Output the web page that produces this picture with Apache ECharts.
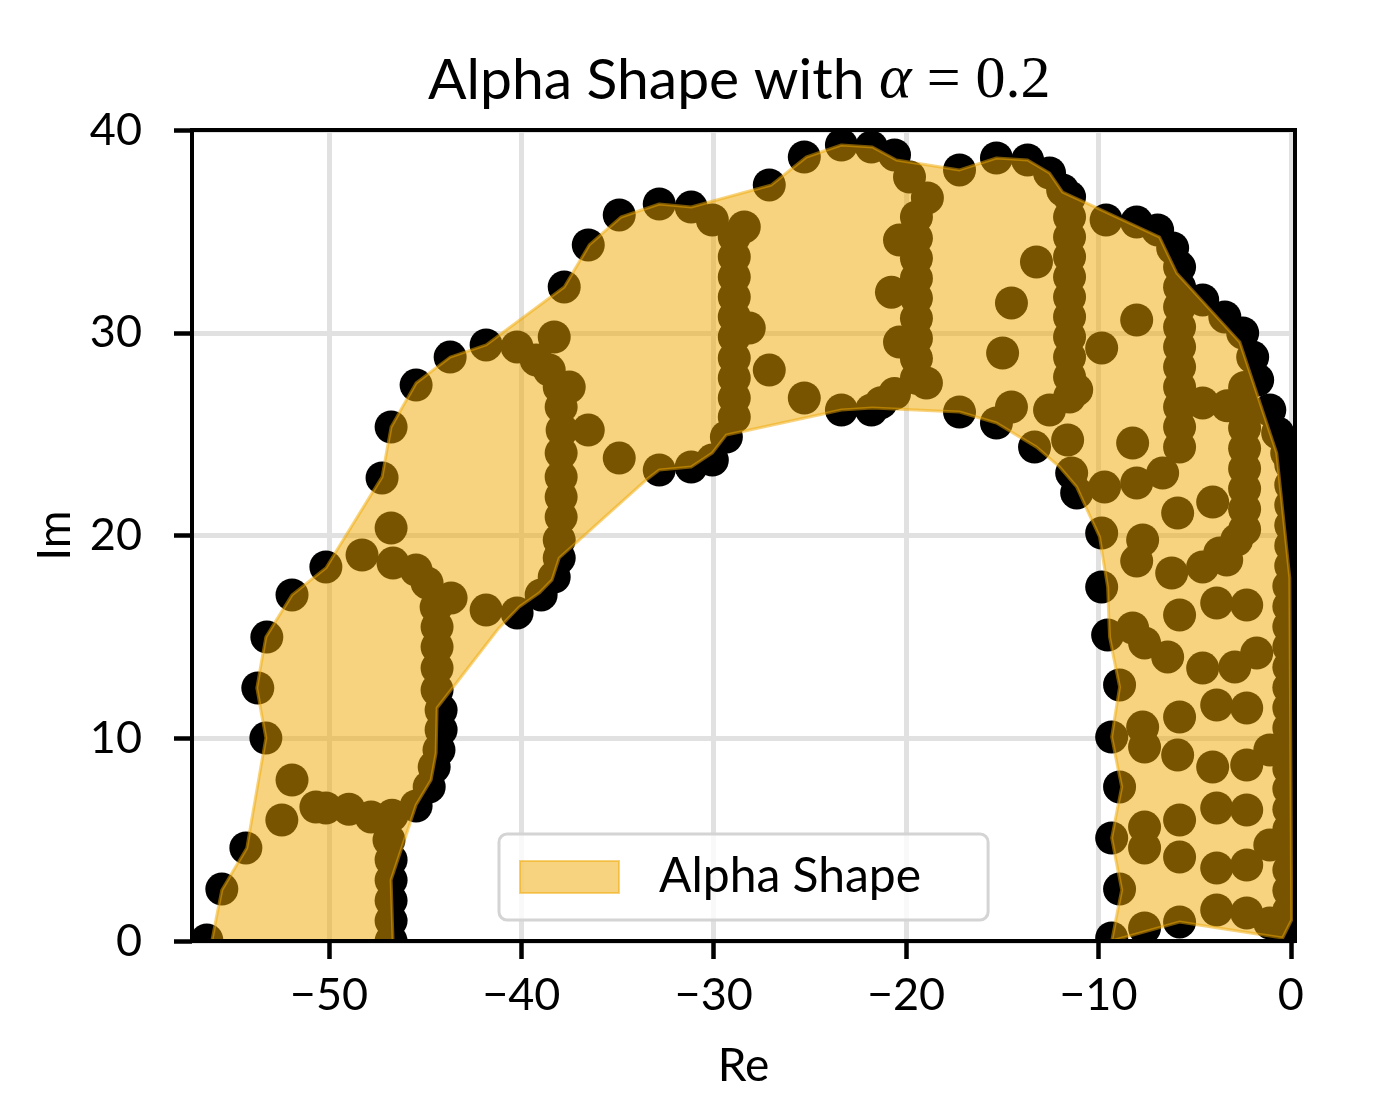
<!DOCTYPE html>
<html>
<head>
<meta charset="utf-8">
<script src="https://cdn.jsdelivr.net/npm/echarts@6/dist/echarts.min.js"></script>
<style>
  html, body { margin: 0; padding: 0; background: #fff; }
  #main { width: 1387px; height: 1105px; }
</style>
</head>
<body>
<div id="main"></div>
<script>
// scatter points (Re, Im)
var pointRe = [
  -56.35, -55.57, -54.32, -52.45, -51.92, -53.28, -53.70, -53.23, -51.92, -50.16, -48.28, -46.77,
  -47.24, -46.77, -45.47, -43.70, -41.83, -40.22, -38.29, -37.77, -36.52, -34.91, -32.83, -31.17,
  -50.68, -50.16, -48.96, -47.81, -46.88, -46.72, -46.77, -46.77, -46.77, -46.77, -46.77, -45.47,
  -44.79, -44.53, -44.28, -44.17, -44.17, -44.38, -44.38, -44.38, -44.38, -44.43, -43.65, -44.90,
  -45.47, -46.67,
  -41.83, -40.22, -38.97, -38.29, -38.03, -38.03, -37.93, -37.93, -37.93, -37.93, -37.88, -37.93,
  -38.03, -37.51, -38.55, -39.23, -36.52, -34.91, -32.83, -31.17, -30.07, -29.34,
  -28.93, -28.93, -28.93, -28.93, -28.93, -28.93, -28.93, -28.93, -28.93, -28.93, -30.07, -28.41,
  -28.15, -27.11, -25.29, -23.36, -21.80,
  -27.11, -25.29, -23.36, -21.80, -20.60, -19.82, -18.89,
  -19.46, -19.46, -19.46, -19.46, -19.46, -19.46, -19.46, -19.46, -19.46, -20.34, -20.76, -20.34,
  -18.94, -20.60, -21.30, -17.22, -17.22,
  -11.50, -11.50, -11.50, -11.50, -11.50, -11.50, -11.50, -11.50, -11.50, -11.50, -11.50,
  -11.86, -12.54, -13.68, -15.30, -13.22, -14.52, -14.98, -14.52, -15.30, -13.32, -12.54, -11.13,
  -11.60, -11.39, -11.13, -9.68, -9.83,
  -9.60, -8.01, -6.92, -6.14, -5.78, -4.58, -3.43, -2.50, -1.98, -1.72, -1.09, -0.68, -0.21,
  -8.01, -9.83, -8.22, -8.01, -6.66, -5.88, -4.06, -4.58, -3.30,
  -5.78, -5.78, -5.78, -5.78, -5.78, -5.78, -5.78, -5.78, -5.78,
  -2.40, -2.40, -2.40, -2.40, -2.40, -2.40, -2.40, -2.40, -2.81, -3.69, -4.58,
  -7.70, -8.01, -6.19, -3.33,
  -5.78, -3.85, -2.29, -8.22, -7.60, -6.40, -4.58, -2.91, -1.77, -7.70, -7.60, -5.78,
  -5.88, -3.85, -2.29, -4.06, -2.29, -1.09, -3.85, -2.29, -7.60, -7.60, -5.78, -5.78,
  -3.85, -2.29, -1.09, -3.85, -2.29, -7.60, -5.78, -1.09,
  -9.83, -9.52, -8.90, -9.31, -8.90, -9.31, -8.90, -9.31,
  -0.10, -0.10, -0.10, -0.10, -0.10, -0.10, -0.10, -0.10, -0.10, -0.10, -0.10, -0.10,
  -0.10, -0.10, -0.10, -0.10, -0.10, -0.10, 0.00, 0.00, 0.00, 0.00, 0.00, 0.00
];
var pointIm = [
  0.05, 2.56, 4.59, 5.97, 7.94, 10.01, 12.48, 14.99, 17.07, 18.45, 19.04, 20.37,
  22.84, 25.35, 27.42, 28.80, 29.40, 29.30, 29.79, 32.26, 34.33, 35.81, 36.35, 36.20,
  6.61, 6.56, 6.50, 6.12, 4.98, 6.20, 4.00, 3.00, 2.00, 1.00, 0.00, 6.66,
  7.60, 8.58, 9.42, 10.41, 11.39, 12.38, 13.46, 14.50, 15.49, 16.47, 16.92, 17.66,
  18.30, 18.64,
  16.32, 16.18, 17.07, 17.95, 18.89, 19.78, 20.91, 21.90, 22.89, 24.07, 25.20, 26.34,
  27.32, 27.32, 28.16, 28.66, 25.20, 23.82, 23.23, 23.38, 23.72, 24.86,
  25.84, 26.78, 27.77, 28.75, 29.79, 30.78, 31.76, 32.75, 33.74, 34.72, 35.56, 35.22,
  30.23, 28.16, 26.78, 26.19, 26.19,
  37.29, 38.67, 39.26, 39.16, 38.77, 37.68, 36.65,
  35.71, 34.66, 33.67, 32.68, 31.70, 30.71, 29.72, 28.73, 27.75, 34.57, 32.00, 29.54,
  27.52, 27.00, 26.55, 38.03, 26.09,
  26.83, 27.82, 28.80, 29.79, 30.78, 31.76, 32.75, 33.74, 34.72, 35.71, 36.70,
  37.04, 37.88, 38.52, 38.62, 33.49, 31.47, 29.00, 26.34, 25.55, 24.36, 26.19, 27.18,
  24.71, 23.08, 22.10, 22.39, 20.12,
  35.56, 35.46, 35.07, 34.18, 33.24, 31.62, 30.78, 29.99, 28.80, 27.67, 26.19, 25.06, 24.07,
  30.63, 29.25, 24.56, 22.59, 23.08, 21.11, 21.65, 26.54, 26.40,
  32.25, 31.27, 30.28, 29.30, 28.31, 27.32, 26.34, 25.35, 24.36,
  27.30, 26.30, 25.30, 24.30, 23.30, 22.30, 21.30, 20.30, 19.78, 19.14, 18.45,
  19.78, 18.74, 18.15, 18.79,
  16.08, 16.67, 16.57, 15.44, 14.70, 14.01, 13.46, 13.51, 14.20, 10.55, 9.57, 11.05,
  9.17, 11.64, 11.49, 8.58, 8.68, 9.42, 6.56, 6.46, 5.62, 4.59, 5.97, 4.14,
  3.60, 3.75, 4.73, 1.53, 1.38, 0.64, 0.94, 0.89,
  17.46, 15.09, 12.63, 10.06, 7.60, 5.08, 2.56, 0.15,
  0.5, 1.5, 2.5, 3.5, 4.5, 5.5, 6.5, 7.5, 8.5, 9.5, 10.5, 11.5,
  12.5, 13.5, 14.5, 15.5, 16.5, 17.5, 18.5, 19.5, 20.5, 21.5, 22.5, 23.5
];

// alpha shape outline (Re, Im)
var hullRe = [
  -56.09, -55.57, -54.27, -53.28, -53.75, -53.28, -51.92, -50.16, -47.24, -46.77, -45.47, -43.70,
  -41.83, -37.77, -36.47, -34.81, -32.83, -31.17, -27.00, -25.18, -23.36, -21.75, -20.50, -17.22,
  -15.30, -13.68, -12.54, -11.86, -9.94, -6.82, -5.93, -2.65, -0.73, -0.05, 0.05, -0.42,
  -5.78, -9.31, -8.79, -9.31, -8.79, -9.31, -8.90, -9.42, -9.52, -9.94, -11.13, -12.02,
  -13.22, -15.30, -17.22, -21.75, -23.36, -29.34, -30.07, -31.17, -32.83, -33.51, -38.03, -38.40,
  -39.07, -40.11, -41.16, -44.38, -44.43, -44.69, -45.47, -46.77, -46.67
];
var hullIm = [
  0.00, 2.52, 4.59, 10.01, 12.48, 14.99, 17.07, 18.40, 22.89, 25.35, 27.52, 28.80,
  29.40, 32.26, 34.33, 35.71, 36.35, 36.20, 37.29, 38.67, 39.26, 39.16, 38.52, 38.03,
  38.62, 38.52, 37.88, 36.94, 36.10, 34.72, 32.95, 29.54, 24.07, 17.90, 1.04, 0.15,
  0.94, 0.00, 2.52, 5.08, 7.60, 10.06, 12.53, 14.99, 17.46, 19.93, 22.39, 23.38,
  24.36, 25.55, 26.09, 26.29, 26.19, 24.96, 24.07, 23.38, 23.23, 22.74, 18.89, 17.81,
  17.16, 16.47, 15.44, 11.49, 9.27, 7.94, 6.71, 3.01, 0.00
];

var xTicks = [-50, -40, -30, -20, -10, 0];
var yTicks = [0, 10, 20, 30, 40];

var chart = echarts.init(document.getElementById('main'));

var pointData = pointRe.map(function (x, i) { return [x, pointIm[i]]; });
var hullData = hullRe.map(function (x, i) { return [x, hullIm[i]]; });

var fontSans = 'Lato';

function minusLabel(v) {
  return v < 0 ? '\u2212' + (-v) : String(v);
}

var option = {
  animation: false,
  backgroundColor: '#fff',
  title: {
    text: '{s|Alpha Shape with }{m|\u03b1}{r| = 0.2}',
    left: 428,
    top: 50,
    padding: 0,
    textStyle: {
      rich: {
        s: { fontFamily: fontSans, fontWeight: 'normal', fontSize: 57, color: '#000' },
        m: { fontFamily: 'Liberation Serif', fontWeight: 'normal', fontStyle: 'italic', fontSize: 62, color: '#000' },
        r: { fontFamily: 'Liberation Serif', fontWeight: 'normal', fontSize: 60, color: '#000' }
      }
    }
  },
  legend: {
    left: 499,
    top: 834,
    data: [{
      name: 'Alpha Shape',
      icon: 'rect',
      itemStyle: { color: 'rgba(240,168,0,0.5)', borderColor: 'rgba(240,168,0,0.5)', borderWidth: 2 }
    }],
    itemWidth: 99,
    itemHeight: 32,
    padding: [19, 67, 19, 20],
    backgroundColor: 'rgba(255,255,255,0.8)',
    borderColor: '#d4d4d4',
    borderWidth: 3,
    borderRadius: 8,
    selectedMode: false,
    textStyle: {
      fontFamily: fontSans,
      fontSize: 48,
      color: '#000',
      lineHeight: 46,
      padding: [0, 0, 0, 35]
    }
  },
  grid: {
    left: 192,
    right: 92,
    top: 130,
    bottom: 164,
    show: true,
    z: 10,
    backgroundColor: 'transparent',
    borderColor: '#000',
    borderWidth: 4
  },
  xAxis: {
    type: 'value',
    min: -57.12,
    max: 0.22,
    axisLine: { show: false, onZero: false },
    axisTick: { show: true, length: 18, lineStyle: { color: '#000', width: 4.5 }, customValues: xTicks },
    axisLabel: {
      customValues: xTicks,
      formatter: minusLabel,
      fontFamily: fontSans,
      fontSize: 45,
      color: '#000',
      margin: 32
    },
    splitLine: { show: true, lineStyle: { color: '#e1e1e1', width: 5 } },
    name: 'Re',
    nameLocation: 'middle',
    nameGap: 102,
    nameTextStyle: { fontFamily: fontSans, fontSize: 46, color: '#000' }
  },
  yAxis: {
    type: 'value',
    position: 'left',
    min: 0,
    max: 40,
    interval: 10,
    axisLine: { show: false, onZero: false },
    axisTick: { show: true, length: 18, lineStyle: { color: '#000', width: 4.5 }, customValues: yTicks },
    axisLabel: {
      customValues: yTicks,
      fontFamily: fontSans,
      fontSize: 45,
      color: '#000',
      margin: 50
    },
    splitLine: { show: true, lineStyle: { color: '#e1e1e1', width: 5 } },
    name: 'Im',
    nameLocation: 'middle',
    nameGap: 114,
    nameRotate: 90,
    nameTextStyle: { fontFamily: fontSans, fontSize: 46, color: '#000' }
  },
  series: [
    {
      name: 'points',
      type: 'custom',
      coordinateSystem: 'cartesian2d',
      clip: true,
      silent: true,
      z: 2,
      data: pointData,
      renderItem: function (params, api) {
        var c = api.coord([api.value(0), api.value(1)]);
        return {
          type: 'circle',
          shape: { cx: c[0], cy: c[1], r: 16.5 },
          style: { fill: '#000' }
        };
      }
    },
    {
      name: 'Alpha Shape',
      type: 'custom',
      coordinateSystem: 'cartesian2d',
      clip: true,
      silent: true,
      z: 3,
      itemStyle: { color: 'rgba(240,168,0,0.5)' },
      data: hullData,
      renderItem: function (params, api) {
        if (params.dataIndex !== 0) return;
        var pts = hullData.map(function (p) { return api.coord(p); });
        return {
          type: 'polygon',
          shape: { points: pts },
          style: {
            fill: 'rgba(240,168,0,0.5)',
            stroke: 'rgba(240,168,0,0.5)',
            lineWidth: 3,
            lineJoin: 'round'
          }
        };
      }
    }
  ]
};

chart.setOption(option);
</script>
</body>
</html>
